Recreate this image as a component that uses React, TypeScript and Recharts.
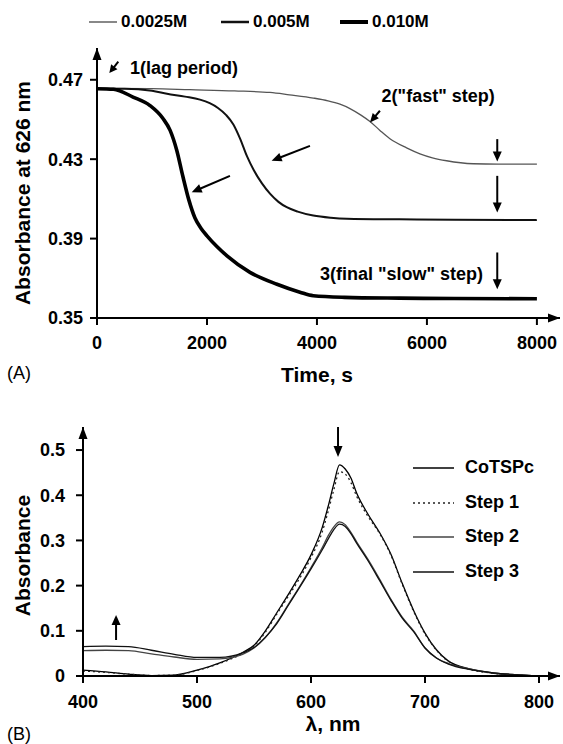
import React from "react";
import { Line, LineChart, ReferenceDot, ReferenceLine, XAxis, YAxis } from "recharts";

const FONT = "'Liberation Sans', Arial, Helvetica, sans-serif";

// (A) kinetics at 626 nm: time (s) and absorbance for each concentration
const t0025 = [0, 1000, 1690, 2500, 3145, 3500, 3933, 4200, 4418, 4600, 4800, 4964, 5145, 5327, 5630, 5873, 6100, 6358, 6842, 7300, 8000];
const a0025 = [0.4657, 0.4655, 0.465, 0.4644, 0.4636, 0.4624, 0.4608, 0.4594, 0.4577, 0.4555, 0.4522, 0.449, 0.4445, 0.4403, 0.4357, 0.4327, 0.4307, 0.4292, 0.4277, 0.4275, 0.4275];

const t005 = [0, 500, 1000, 1273, 1600, 1873, 2050, 2200, 2350, 2480, 2600, 2727, 2850, 3000, 3150, 3300, 3450, 3650, 3933, 4250, 4545, 5500, 6500, 8000];
const a005 = [0.4655, 0.4655, 0.4645, 0.463, 0.4615, 0.46, 0.4582, 0.4558, 0.4522, 0.4475, 0.4405, 0.4315, 0.4245, 0.4178, 0.4125, 0.4085, 0.4058, 0.4036, 0.4016, 0.4005, 0.4, 0.3997, 0.3995, 0.3993];

const t010 = [0, 300, 655, 964, 1200, 1330, 1450, 1560, 1670, 1780, 1890, 2000, 2180, 2364, 2782, 3273, 3691, 3933, 4500, 5500, 6500, 8000];
const a010 = [0.4655, 0.4652, 0.4613, 0.457, 0.4505, 0.4445, 0.4345, 0.4215, 0.4095, 0.4005, 0.3952, 0.3914, 0.386, 0.3813, 0.373, 0.367, 0.363, 0.3612, 0.3604, 0.36, 0.3598, 0.3597];

const timeTicks = [0, 2000, 4000, 6000, 8000];
const absTicksA = [0.35, 0.39, 0.43, 0.47];

// (B) spectra: wavelength (nm) and absorbance per step
const wavelengths = [400, 420, 440, 460, 480, 500, 520, 540, 550, 560, 570, 580, 590, 600, 610, 615, 620, 625, 630, 635, 640, 650, 660, 670, 680, 690, 700, 710, 720, 740, 760, 780, 800];
const coTSPc = [0.013, 0.009, 0.004, 0.001, 0.002, 0.013, 0.029, 0.052, 0.068, 0.1, 0.14, 0.18, 0.222, 0.268, 0.33, 0.375, 0.425, 0.467, 0.458, 0.438, 0.405, 0.358, 0.318, 0.27, 0.205, 0.145, 0.095, 0.058, 0.034, 0.015, 0.006, 0.002, 0.0];
const step1 = [0.011, 0.008, 0.004, 0.001, 0.002, 0.012, 0.028, 0.05, 0.066, 0.097, 0.137, 0.176, 0.216, 0.262, 0.32, 0.364, 0.412, 0.452, 0.447, 0.428, 0.398, 0.353, 0.316, 0.268, 0.203, 0.143, 0.093, 0.057, 0.033, 0.014, 0.006, 0.002, 0.0];
const step2 = [0.056, 0.057, 0.056, 0.049, 0.042, 0.037, 0.038, 0.048, 0.062, 0.085, 0.118, 0.158, 0.198, 0.24, 0.285, 0.31, 0.33, 0.341, 0.335, 0.318, 0.297, 0.258, 0.215, 0.17, 0.13, 0.1, 0.062, 0.04, 0.028, 0.015, 0.007, 0.003, 0.0];
const step3 = [0.065, 0.066, 0.065, 0.057, 0.048, 0.041, 0.041, 0.051, 0.063, 0.086, 0.116, 0.156, 0.196, 0.237, 0.28, 0.303, 0.324, 0.336, 0.331, 0.315, 0.294, 0.255, 0.212, 0.168, 0.128, 0.098, 0.062, 0.04, 0.027, 0.014, 0.007, 0.003, 0.0];

const nmTicks = [400, 500, 600, 700, 800];
const absTicksB = [0, 0.1, 0.2, 0.3, 0.4, 0.5];

const kinetics = [
  { name: "0.0025M", data: t0025.map((t, i) => ({ t, v: a0025[i] })), color: "#555", width: 1.3, legendColor: "#888", legendWidth: 2 },
  { name: "0.005M", data: t005.map((t, i) => ({ t, v: a005[i] })), color: "#111", width: 2, legendColor: "#111", legendWidth: 2.5 },
  { name: "0.010M", data: t010.map((t, i) => ({ t, v: a010[i] })), color: "#000", width: 3.6, legendColor: "#000", legendWidth: 4 }
];

const spectra = wavelengths.map((w, i) => ({ w, coTSPc: coTSPc[i], step1: step1[i], step2: step2[i], step3: step3[i] }));

const steps = [
  { key: "coTSPc", name: "CoTSPc", color: "#000", dash: undefined },
  { key: "step1", name: "Step 1", color: "#222", dash: "2 3" },
  { key: "step2", name: "Step 2", color: "#444", dash: undefined },
  { key: "step3", name: "Step 3", color: "#111", dash: undefined }
];

const tickStyle = { fill: "#000", fontSize: 18, fontWeight: 700, fontFamily: FONT };
const titleStyle = { fill: "#000", fontSize: 21, fontWeight: 700, fontFamily: FONT };

// line with a filled head at (x2, y2)
function arrow(head = 11, half = 4.5, sw = 2) {
  return (p: any) => {
    const { x1, y1, x2, y2 } = p;
    const dx = x2 - x1;
    const dy = y2 - y1;
    const len = Math.hypot(dx, dy) || 1;
    const ux = dx / len;
    const uy = dy / len;
    const bx = x2 - ux * head;
    const by = y2 - uy * head;
    const pts = `${x2},${y2} ${bx - uy * half},${by + ux * half} ${bx + uy * half},${by - ux * half}`;
    return (
      <g>
        <line x1={x1} y1={y1} x2={bx + ux} y2={by + uy} stroke="#000" strokeWidth={sw} />
        <polygon points={pts} fill="#000" />
      </g>
    );
  };
}

function note(text: string, anchor: "start" | "end" = "start") {
  return (p: any) => (
    <text x={p.cx} y={p.cy} textAnchor={anchor} dominantBaseline="central" fill="#000" fontSize={18} fontWeight={700} fontFamily={FONT}>
      {text}
    </text>
  );
}

function yTitle(text: string, x: number, dy: number) {
  return (p: any) => {
    const vb = p.viewBox;
    const cy = vb.y + vb.height / 2 + dy;
    return (
      <text x={x} y={cy} transform={`rotate(-90 ${x} ${cy})`} textAnchor="middle" dominantBaseline="central" {...titleStyle}>
        {text}
      </text>
    );
  };
}

function xTitle(text: string, cx: number, y: number) {
  return () => (
    <text x={cx} y={y} textAnchor="middle" dominantBaseline="central" {...titleStyle}>
      {text}
    </text>
  );
}

const seg = (x1: number, y1: number, x2: number, y2: number) => [
  { x: x1, y: y1 },
  { x: x2, y: y2 }
];

function KineticsPanel() {
  return (
    <LineChart width={563} height={390} margin={{ top: 48, right: 3, left: 5, bottom: 42 }}>
      <XAxis
        dataKey="t"
        type="number"
        domain={[0, 8420]}
        allowDataOverflow
        ticks={timeTicks}
        tick={tickStyle}
        tickSize={7}
        tickMargin={11}
        height={30}
        axisLine={{ stroke: "#000", strokeWidth: 2 }}
        tickLine={{ stroke: "#000", strokeWidth: 2 }}
        label={{ content: xTitle("Time, s", 317, 374) }}
      />
      <YAxis
        type="number"
        domain={[0.35, 0.486]}
        allowDataOverflow
        ticks={absTicksA}
        tickFormatter={(v: number) => v.toFixed(2)}
        tick={tickStyle}
        tickSize={7}
        tickMargin={7}
        width={92}
        axisLine={{ stroke: "#000", strokeWidth: 2 }}
        tickLine={{ stroke: "#000", strokeWidth: 2 }}
        label={{ content: yTitle("Absorbance at 626 nm", 22, 10) }}
      />
      {kinetics.map((s) => (
        <Line
          key={s.name}
          data={s.data}
          dataKey="v"
          type="monotone"
          stroke={s.color}
          strokeWidth={s.width}
          dot={false}
          isAnimationActive={false}
        />
      ))}
      {/* axis arrow heads */}
      <ReferenceLine segment={seg(0, 0.47, 0, 0.486)} ifOverflow="visible" shape={arrow(12, 4.5, 2)} />
      <ReferenceLine segment={seg(8000, 0.35, 8420, 0.35)} ifOverflow="visible" shape={arrow(12, 4.5, 2)} />
      {/* annotations */}
      <ReferenceLine segment={seg(387, 0.4791, 224, 0.4734)} ifOverflow="visible" shape={arrow(8, 4, 2)} />
      <ReferenceLine segment={seg(5145, 0.4544, 4964, 0.4485)} ifOverflow="visible" shape={arrow(9, 4, 2)} />
      <ReferenceLine segment={seg(3873, 0.4367, 3176, 0.4292)} ifOverflow="visible" shape={arrow(10, 4.5, 2)} />
      <ReferenceLine segment={seg(2418, 0.4216, 1722, 0.4133)} ifOverflow="visible" shape={arrow(10, 4.5, 2)} />
      <ReferenceLine segment={seg(7279, 0.4401, 7279, 0.4288)} ifOverflow="visible" shape={arrow(10, 4.5, 2)} />
      <ReferenceLine segment={seg(7279, 0.4216, 7279, 0.4032)} ifOverflow="visible" shape={arrow(10, 4.5, 2)} />
      <ReferenceLine segment={seg(7279, 0.383, 7279, 0.3645)} ifOverflow="visible" shape={arrow(10, 4.5, 2)} />
      <ReferenceDot x={600} y={0.4759} r={0} ifOverflow="visible" shape={note("1(lag period)")} />
      <ReferenceDot x={5176} y={0.4619} r={0} ifOverflow="visible" shape={note('2("fast" step)')} />
      <ReferenceDot x={4055} y={0.3721} r={0} ifOverflow="visible" shape={note('3(final "slow" step)')} />
    </LineChart>
  );
}

function SpectraPanel() {
  return (
    <LineChart width={563} height={364} data={spectra} margin={{ top: 47, right: 3, left: 5, bottom: 38 }}>
      <XAxis
        dataKey="w"
        type="number"
        domain={[400, 818.4]}
        allowDataOverflow
        ticks={nmTicks}
        tick={tickStyle}
        tickSize={7}
        tickMargin={12}
        height={30}
        axisLine={{ stroke: "#000", strokeWidth: 2 }}
        tickLine={{ stroke: "#000", strokeWidth: 2 }}
        label={{ content: xTitle("λ, nm", 333, 343) }}
      />
      <YAxis
        type="number"
        domain={[0, 0.551]}
        allowDataOverflow
        ticks={absTicksB}
        tickFormatter={(v: number) => (v === 0 ? "0" : v.toFixed(1))}
        tick={tickStyle}
        tickSize={7}
        tickMargin={11}
        width={78}
        axisLine={{ stroke: "#000", strokeWidth: 2 }}
        tickLine={{ stroke: "#000", strokeWidth: 2 }}
        label={{ content: yTitle("Absorbance", 22, 4) }}
      />
      {steps.map((s) => (
        <Line
          key={s.key}
          dataKey={s.key}
          type="monotone"
          stroke={s.color}
          strokeWidth={1.3}
          strokeDasharray={s.dash}
          dot={false}
          isAnimationActive={false}
        />
      ))}
      <ReferenceLine segment={seg(400, 0.52, 400, 0.551)} ifOverflow="visible" shape={arrow(12, 4.5, 2)} />
      <ReferenceLine segment={seg(790, 0, 818.4, 0)} ifOverflow="visible" shape={arrow(12, 4.5, 2)} />
      <ReferenceLine segment={seg(623.7, 0.551, 623.7, 0.4845)} ifOverflow="visible" shape={arrow(11, 4.5, 2)} />
      <ReferenceLine segment={seg(429, 0.0796, 429, 0.135)} ifOverflow="visible" shape={arrow(10, 4.5, 2)} />
    </LineChart>
  );
}

const legendText: React.CSSProperties = { fontFamily: FONT, fontSize: 17, fontWeight: 700, color: "#000", position: "absolute", lineHeight: "20px" };

export default function App() {
  return (
    <div style={{ position: "absolute", left: 0, top: 0, width: 563, height: 744, background: "#fff", overflow: "hidden" }}>
      {/* concentration legend */}
      {kinetics.map((s, i) => {
        const lx = [89, 221, 340][i];
        return (
          <React.Fragment key={s.name}>
            <svg style={{ position: "absolute", left: lx, top: 16 }} width={30} height={12}>
              <line x1={0} y1={6} x2={28} y2={6} stroke={s.legendColor} strokeWidth={s.legendWidth} />
            </svg>
            <div style={{ ...legendText, left: lx + 32, top: 12 }}>{s.name}</div>
          </React.Fragment>
        );
      })}

      <div style={{ position: "absolute", left: 0, top: 0 }}>
        <KineticsPanel />
      </div>
      <div style={{ position: "absolute", left: 7, top: 363, fontFamily: FONT, fontSize: 18 }}>(A)</div>

      <div style={{ position: "absolute", left: 0, top: 380 }}>
        <SpectraPanel />
      </div>
      {/* step legend */}
      {steps.map((s, i) => {
        const cy = [468, 503, 537, 572][i];
        return (
          <React.Fragment key={s.key}>
            <svg style={{ position: "absolute", left: 413, top: cy - 5 }} width={42} height={10}>
              <line x1={0} y1={5} x2={41} y2={5} stroke={s.color} strokeWidth={1.3} strokeDasharray={s.dash} />
            </svg>
            <div style={{ ...legendText, fontSize: 18, left: 465, top: cy - 11 }}>{s.name}</div>
          </React.Fragment>
        );
      })}
      <div style={{ position: "absolute", left: 7, top: 724, fontFamily: FONT, fontSize: 18 }}>(B)</div>
    </div>
  );
}
